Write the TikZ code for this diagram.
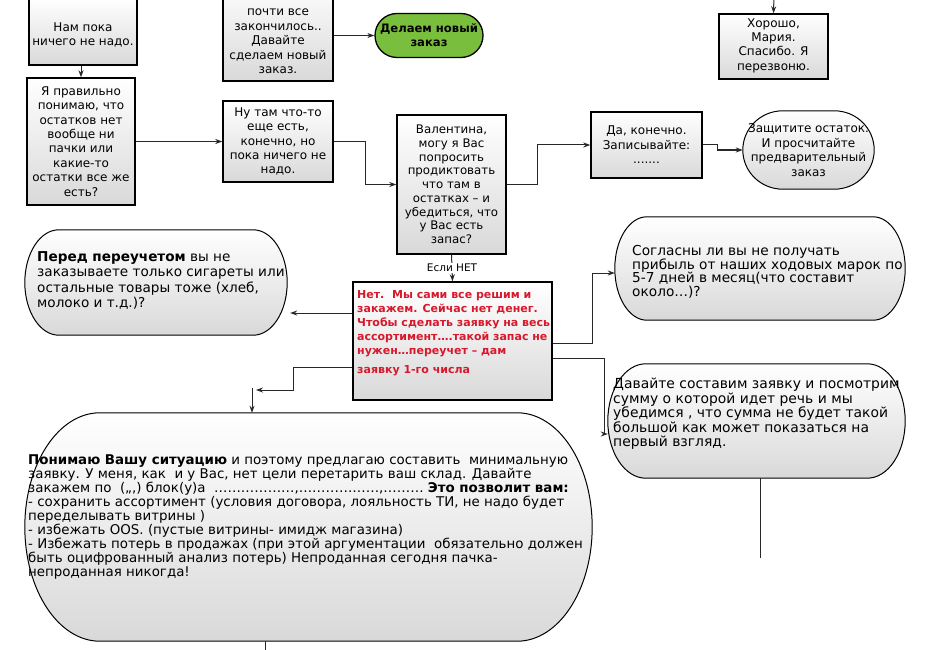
\documentclass[tikz,border=0pt]{standalone}
\usepackage{fontspec}
\setmainfont{DejaVu Sans}
\usetikzlibrary{arrows.meta,calc}
\definecolor{redtxt}{RGB}{215,25,45}
\definecolor{greenfill}{RGB}{122,190,62}
\definecolor{linec}{RGB}{40,40,40}
\newcommand{\stadpath}[2]{%
  \path[stad] let \p1=(#1.north west), \p2=(#1.south east) in
   (\x1+#2,\y1) -- (\x2-#2,\y1) arc[start angle=90,end angle=-90,x radius=#2,y radius={(\y1-\y2)/2}]
   -- (\x1+#2,\y2) arc[start angle=270,end angle=90,x radius=#2,y radius={(\y1-\y2)/2}] -- cycle;}
\begin{document}
\begin{tikzpicture}[x=1pt,y=-1pt,
 box/.style={draw=black, line width=1.4pt, top color=white, bottom color=gray!30, inner sep=0pt, align=center, font=\fontsize{12}{14.4}\selectfont},
 btxt/.style={inner sep=0pt, align=center, font=\fontsize{12}{14.4}\selectfont},
 stad/.style={draw=black, line width=1pt, top color=white, bottom color=gray!30},
 holder/.style={draw=none, inner sep=0pt},
 txt/.style={inner sep=0pt, align=left, font=\fontsize{13.4}{14}\selectfont, anchor=north west},
 conn/.style={draw=linec, line width=1pt, -{Stealth[length=7pt,width=5pt]}},
 plain/.style={draw=linec, line width=1pt}]
\useasboundingbox (0,0) rectangle (926,650);
\fill[white] (0,0) rectangle (926,650);

% rectangular boxes
\node[box, minimum width=108pt, minimum height=67pt] (b1) at (83,31.5) {};
\node[btxt] (b1t) at (83,35) {Нам пока\\ничего не надо.};
\node[box, minimum width=108pt, minimum height=127pt] (b2) at (81,141.5) {Я правильно\\понимаю, что\\остатков нет\\вообще ни\\пачки или\\какие-то\\остатки все же\\есть?};
\node[box, minimum width=110pt, minimum height=101pt] (b3) at (278,30.5) {};
\node[btxt] (b3t) at (278,41.5) {почти все\\закончилось..\\Давайте\\сделаем новый\\заказ.};
\node[draw=black, line width=1.3pt, fill=greenfill, rounded corners=22pt, minimum width=108pt, minimum height=44pt, inner sep=0pt, align=center, font=\bfseries\fontsize{11.6}{14}\selectfont] (g) at (429,35.5) {Делаем новый\\заказ};
\node[box, minimum width=109pt, minimum height=65pt] (b5) at (773.5,46.5) {};
\node[btxt] (b5t) at (773.5,45.5) {Хорошо,\\Мария.\\Спасибо. Я\\перезвоню.};
\node[box, minimum width=110pt, minimum height=81pt] (b6) at (278,141.5) {Ну там что-то\\еще есть,\\конечно, но\\пока ничего не\\надо.};
\node[box, minimum width=109pt, minimum height=139pt, font=\fontsize{11.8}{13.75}\selectfont] (b7) at (451.5,184.5) {Валентина,\\могу я Вас\\попросить\\продиктовать\\что там в\\остатках -- и\\убедиться, что\\у Вас есть\\запас?};
\node[box, minimum width=111pt, minimum height=66pt] (b8) at (646.5,145) {Да, конечно.\\Записывайте:\\.......};
\node[box, minimum width=199pt, minimum height=118pt] (r) at (452.5,341) {};
\node[txt, font=\bfseries\fontsize{11}{14}\selectfont, text=redtxt] (rt) at (357,290) {Нет.~~Мы сами все решим и\\закажем. Сейчас нет денег.\\Чтобы сделать заявку на весь\\ассортимент….такой запас не\\нужен…переучет – дам\\[5pt]заявку 1-го числа};

% stadium shapes
\node[holder, minimum width=131pt, minimum height=78pt] (e9) at (808.5,150) {};
\stadpath{e9}{40pt}
\node[btxt, font=\fontsize{12}{14.5}\selectfont] (e9t) at (808.5,150) {Защитите остаток.\\И просчитайте\\предварительный\\заказ};

\node[holder, minimum width=262pt, minimum height=105pt] (s10) at (156,282.5) {};
\stadpath{s10}{34pt}
\node[txt, font=\fontsize{13.6}{15.5}\selectfont] (s10t) at (37,251) {\textbf{Перед переучетом} вы не\\заказываете только сигареты или\\остальные товары тоже (хлеб,\\молоко и т.д.)?};

\node[holder, minimum width=290pt, minimum height=103pt] (s12) at (760,268.5) {};
\stadpath{s12}{32pt}
\node[txt, font=\fontsize{13.7}{13.8}\selectfont] (s12t) at (632,245) {Согласны ли вы не получать\\прибыль от наших ходовых марок по\\5-7 дней в месяц(что составит\\около…)?};

\node[holder, minimum width=297pt, minimum height=114pt] (s13) at (756.5,421) {};
\stadpath{s13}{38pt}
\node[txt, font=\fontsize{13.9}{14.5}\selectfont] (s13t) at (613,378) {Давайте составим заявку и посмотрим\\сумму о которой идет речь и мы\\убедимся , что сумма не будет такой\\большой как может показаться на\\первый взгляд.};

\node[holder, minimum width=567pt, minimum height=228pt] (big) at (308.5,527) {};
\stadpath{big}{75pt}
\node[txt] (bigt) at (28,455) {\textbf{Понимаю Вашу ситуацию} и поэтому предлагаю составить~ минимальную\\заявку. У меня, как~ и у Вас, нет цели перетарить ваш склад. Давайте\\закажем по~ (,,,) блок(у)а~ ………………,………………,……… \textbf{Это позволит вам:}\\- сохранить ассортимент (условия договора, лояльность ТИ, не надо будет\\переделывать витрины )\\- избежать OOS. (пустые витрины- имидж магазина)\\- Избежать потерь в продажах (при этой аргументации~ обязательно должен\\быть оцифрованный анализ потерь) Непроданная сегодня пачка-\\непроданная никогда!};

% free ends
\coordinate (top5) at (774,-5);
\coordinate (k1) at (256,390);
\coordinate (l0) at (252,388);
\coordinate (n1) at (760,558);
\coordinate (m1) at (265,655);

% connectors
\draw[conn] (b1.south -| b2.north) -- (b2.north);
\draw[conn] (b3.east |- g.west) -- (g.west);
\draw[conn] (top5) -- (b5.north);
\draw[conn] (b2.east) -- (b6.west);
\draw[conn] (b6.east) -- ++(32,0) |- (b7.west);
\draw[conn] (b7.east) -- ++(31,0) |- (b8.west);
\draw[conn] (b8.east) -- ++(15,0) |- (e9.west);
\draw[conn] (b7.south) -- node[fill=white, inner sep=1pt, font=\fontsize{10.5}{12}\selectfont] (lbl) {Если НЕТ} (r.north);
\draw[conn, shorten >=3pt] (r.west |- 0,313) -- (s10.east |- 0,313);
\draw[conn] (r.east |- 0,343) -- (592,343) |- (s12.west |- 0,273);
\draw[conn] (r.east |- 0,358) -- (604,358) -- (604,434) -- (s13.west |- 0,434);
\draw[conn] (r.west |- 0,367) -- (293,367) -- (293,390) -- (k1);
\draw[conn] (l0) -- (big.north -| l0);
\draw[plain] (s13.south -| n1) -- (n1);
\draw[plain] (big.south -| m1) -- (m1);
\end{tikzpicture}
\end{document}
